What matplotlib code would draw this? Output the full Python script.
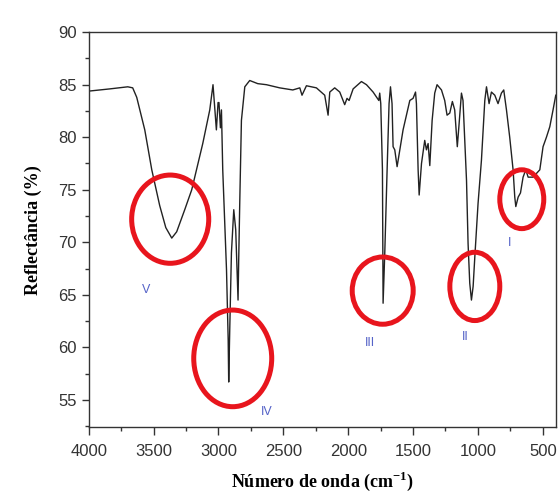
import matplotlib
matplotlib.use("Agg")
import matplotlib.pyplot as plt
from matplotlib.patches import Ellipse
from matplotlib.ticker import MultipleLocator

# FTIR spectrum (wavenumber cm-1, reflectance %)
wavenumber = [3992, 3838, 3699, 3661, 3630, 3568, 3514, 3453, 3406, 3360,
              3322, 3260, 3206, 3121, 3067, 3042, 3016, 3003, 2996, 2985,
              2977, 2967, 2938, 2925, 2921, 2913, 2900, 2882, 2867, 2849,
              2844, 2836, 2823, 2797, 2759, 2697, 2630, 2528, 2427, 2373,
              2356, 2322, 2245, 2181, 2155, 2142, 2104, 2065, 2027, 2009,
              1993, 1962, 1898, 1859, 1808, 1764, 1757, 1749, 1736, 1731,
              1718, 1700, 1685, 1674, 1662, 1654, 1641, 1623, 1602, 1577,
              1525, 1500, 1481, 1474, 1461, 1453, 1435, 1410, 1397, 1384,
              1371, 1353, 1333, 1315, 1281, 1256, 1238, 1217, 1197, 1179,
              1159, 1145, 1127, 1115, 1088, 1076, 1063, 1050, 1037, 1024,
              999, 973, 947, 934, 914, 896, 870, 845, 819, 801,
              780, 755, 729, 716, 708, 690, 672, 652, 631, 613,
              575, 523, 498, 472, 446, 421, 400]
reflectance = [84.4, 84.6, 84.8, 84.7, 83.8, 80.7, 76.9, 73.5, 71.4, 70.4,
               71.0, 73.1, 75.0, 79.4, 82.6, 85.0, 80.7, 83.3, 83.3, 80.9,
               82.6, 76.9, 67.4, 60.7, 56.7, 61.7, 69.0, 73.1, 71.2, 64.5,
               68.3, 73.7, 81.6, 84.8, 85.4, 85.1, 85.0, 84.7, 84.5, 84.7,
               84.0, 84.9, 84.7, 84.0, 82.1, 84.3, 84.7, 84.3, 83.1, 83.7,
               83.5, 84.6, 85.3, 85.0, 84.3, 83.5, 84.2, 83.2, 76.9, 64.2,
               69.0, 76.9, 83.2, 84.8, 83.2, 79.1, 78.8, 77.2, 78.8, 80.7,
               83.5, 83.7, 84.3, 83.2, 76.9, 74.5, 77.5, 79.7, 78.8, 79.4,
               77.3, 81.6, 84.2, 85.0, 84.5, 83.5, 82.1, 82.3, 83.4, 82.6,
               79.1, 81.3, 84.2, 83.5, 75.9, 69.9, 66.1, 64.5, 65.8, 68.6,
               73.7, 77.8, 83.5, 84.8, 83.2, 84.3, 84.0, 83.2, 84.2, 84.5,
               82.6, 80.0, 76.9, 74.3, 73.4, 74.3, 74.7, 76.2, 76.9, 76.2,
               76.2, 76.9, 79.1, 80.0, 81.0, 82.6, 84.0]

# marked bands
band_labels = ["V", "IV", "III", "II", "I"]
band_centers = [(3372, 72.2), (2890, 58.95), (1734, 65.4), (1024, 65.8), (662, 74.1)]
band_sizes = [(594, 8.4), (601, 9.2), (470, 6.4), (385, 6.5), (339, 5.6)]
label_pos = [(3561, 65.5), (2628, 53.8), (1834, 60.4), (1101, 61.0), (754, 69.9)]

plt.rcParams['font.family'] = ['Liberation Sans', 'DejaVu Sans']
plt.rcParams['mathtext.fontset'] = 'custom'
plt.rcParams['mathtext.rm'] = 'Liberation Serif:bold'
plt.rcParams['mathtext.bf'] = 'Liberation Serif:bold'

fig = plt.figure(figsize=(5.58, 4.95), dpi=100)
ax = fig.add_axes([0.159, 0.137, 0.837, 0.798])

ax.plot(wavenumber, reflectance, color='#222222', lw=1.0)

for (cx, cy), (w, h) in zip(band_centers, band_sizes):
    ax.add_patch(Ellipse((cx, cy), w, h, fill=False, edgecolor='#e8151d', lw=3.6, zorder=5))

for lab, (lx, ly) in zip(band_labels, label_pos):
    ax.text(lx, ly, lab, color='#5563c8', fontsize=9, ha='center', va='center')

ax.set_xlim(4000, 400)
ax.set_ylim(52.4, 90)
ax.xaxis.set_major_locator(MultipleLocator(500))
ax.xaxis.set_minor_locator(MultipleLocator(250))
ax.yaxis.set_major_locator(MultipleLocator(5))
ax.yaxis.set_minor_locator(MultipleLocator(2.5))
ax.tick_params(which='major', direction='out', length=5, width=1, colors='#333333', labelsize=12)
ax.tick_params(axis='x', which='major', length=6, pad=6)
ax.tick_params(which='minor', direction='out', length=3, width=1, colors='#333333')
for s in ax.spines.values():
    s.set_color('#333333')
    s.set_linewidth(1)

ax.set_xlabel('Número de onda (cm$^{-1}$)', family='Liberation Serif', fontweight='bold',
              fontsize=13, labelpad=8)
ax.set_ylabel('Reflectância (%)', family='Liberation Serif', fontweight='bold',
              fontsize=13, labelpad=12)

fig.savefig('out.png', dpi=100)
